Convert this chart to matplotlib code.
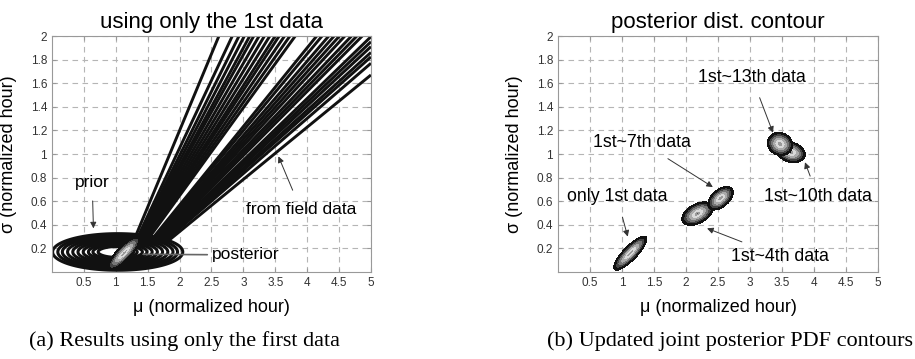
import numpy as np
import matplotlib
matplotlib.use('Agg')
import matplotlib.pyplot as plt

plt.rcParams['font.family'] = ['Liberation Sans', 'DejaVu Sans']

# prior (left panel): centre, half widths, ring levels (normalized radius)
prior_mu, prior_sig = 1.03, 0.17
prior_a, prior_b = 1.02, 0.155
prior_rings = [0.30, 0.38, 0.45, 0.53, 0.61, 0.69, 0.77, 0.85, 0.92, 1.0]

# field data likelihood: lines fanning out from one point, slopes dmu/dsigma
fan_mu0, fan_sig0 = 1.0, -0.1
fan_left = [0.77, 0.87, 0.92, 0.96, 1.00, 1.03, 1.07, 1.11, 1.15, 1.19, 1.22, 1.26, 1.30, 1.34]
fan_right = [1.50, 1.54, 1.59, 1.63, 1.67, 1.71, 1.76, 1.80, 1.84, 1.91, 1.95, 1.99, 2.04,
             2.08, 2.14, 2.26]

# posterior blobs: mean mu, mean sigma, sd mu, sd sigma, correlation
post_names = ['only 1st data', '1st~4th data', '1st~7th data', '1st~10th data', '1st~13th data']
post_mu = [1.13, 2.18, 2.54, 3.64, 3.47]
post_sig = [0.16, 0.495, 0.625, 1.015, 1.085]
post_smu = [0.26, 0.245, 0.2, 0.225, 0.2]
post_ssig = [0.145, 0.1, 0.1, 0.088, 0.098]
post_rho = [0.83, 0.45, 0.5, -0.2, -0.1]

# band colours of the filled contours, outside -> inside
band_levels = [0, 0.08, 0.22, 0.40, 0.58, 0.74, 0.88, 1.0]
band_colors = ['#555555', '#9a9a9a', '#d9d9d9', '#aaaaaa', '#777777', '#444444', '#111111']

mu = np.linspace(0, 5, 900)
sig = np.linspace(0, 2, 600)
M, S = np.meshgrid(mu, sig)


def blob_r(i):
    dx = (M - post_mu[i]) / post_smu[i]
    dy = (S - post_sig[i]) / post_ssig[i]
    rho = post_rho[i]
    q = (dx ** 2 - 2 * rho * dx * dy + dy ** 2) / (1 - rho ** 2)
    return np.sqrt(q)


def style_axes(ax, title):
    ax.set_xlim(0, 5)
    ax.set_ylim(0, 2)
    ax.set_xticks([0.5, 1, 1.5, 2, 2.5, 3, 3.5, 4, 4.5, 5])
    ax.set_xticklabels(['0.5', '1', '1.5', '2', '2.5', '3', '3.5', '4', '4.5', '5'])
    ax.set_yticks([0.2, 0.4, 0.6, 0.8, 1, 1.2, 1.4, 1.6, 1.8, 2])
    ax.set_yticklabels(['0.2', '0.4', '0.6', '0.8', '1', '1.2', '1.4', '1.6', '1.8', '2'])
    ax.grid(True, color='#b5b5b5', linestyle=(0, (5, 4)), linewidth=0.8)
    ax.set_axisbelow(True)
    for s in ax.spines.values():
        s.set_color('#999999')
        s.set_linewidth(0.8)
    ax.tick_params(direction='in', length=3, color='#999999', labelsize=8.5,
                   labelcolor='#333333', top=True, right=True)
    ax.set_title(title, fontsize=16, pad=6)
    ax.set_xlabel('μ (normalized hour)', fontsize=13)
    ax.set_ylabel('σ (normalized hour)', fontsize=13)
    ax.xaxis.set_label_coords(0.5, -0.115)
    ax.yaxis.set_label_coords(-0.11, 0.5)


fig = plt.figure(figsize=(9.15, 3.59), dpi=100)
ax1 = fig.add_axes([0.0568, 0.2423, 0.3486, 0.6574])
ax2 = fig.add_axes([0.6098, 0.2423, 0.3497, 0.6574])

# ---- (a) left panel
R = np.sqrt(((M - prior_mu) / prior_a) ** 2 + ((S - prior_sig) / prior_b) ** 2)
ax1.contour(M, S, R, levels=prior_rings, colors='#111111', linewidths=2.2, zorder=2)

T = (M - fan_mu0) / (S - fan_sig0)
T = np.where(S > 0.26, T, np.nan)
ax1.contour(M, S, T, levels=fan_left + fan_right, colors='#111111', linewidths=2.1, zorder=2)

ax1.contourf(M, S, blob_r(0), levels=band_levels, colors=band_colors, zorder=3)

ax1.annotate('prior', xy=(0.65, 0.37), xytext=(0.63, 0.76), ha='center', va='center',
             fontsize=12.5, zorder=5,
             arrowprops=dict(arrowstyle='-|>', color='#333333', lw=0.7, mutation_scale=9,
                             shrinkA=6, shrinkB=0))
ax1.annotate('posterior', xy=(1.43, 0.15), xytext=(2.5, 0.145), ha='left', va='center',
             fontsize=12.5, zorder=5,
             arrowprops=dict(arrowstyle='-', color='#666666', lw=1.2, shrinkA=1, shrinkB=0))
ax1.annotate('from field data', xy=(3.55, 0.98), xytext=(3.9, 0.53), ha='center', va='center',
             fontsize=12.5, zorder=5,
             arrowprops=dict(arrowstyle='-|>', color='#333333', lw=0.7, mutation_scale=9,
                             shrinkA=7, shrinkB=0))
style_axes(ax1, 'using only the 1st data')

# ---- (b) right panel
for i in range(len(post_names)):
    ax2.contourf(M, S, blob_r(i), levels=band_levels, colors=band_colors, zorder=3 + i)

label_xy = [(0.92, 0.64), (3.47, 0.13), (1.31, 1.10), (4.06, 0.64), (3.03, 1.65)]
arrow_xy = [(1.09, 0.30), (2.33, 0.37), (2.42, 0.72), (3.86, 0.93), (3.36, 1.18)]
for i in range(len(post_names)):
    ax2.annotate(post_names[i], xy=arrow_xy[i], xytext=label_xy[i], ha='center', va='center',
                 fontsize=12.8, zorder=10,
                 arrowprops=dict(arrowstyle='-|>', color='#333333', lw=0.7, mutation_scale=9,
                                 shrinkA=7, shrinkB=0))
style_axes(ax2, 'posterior dist. contour')

fig.text(0.202, 0.05, '(a) Results using only the first data', family='Liberation Serif',
         fontsize=16, ha='center', va='center')
fig.text(0.798, 0.05, '(b) Updated joint posterior PDF contours', family='Liberation Serif',
         fontsize=16, ha='center', va='center')

fig.savefig('out.png', dpi=100)
